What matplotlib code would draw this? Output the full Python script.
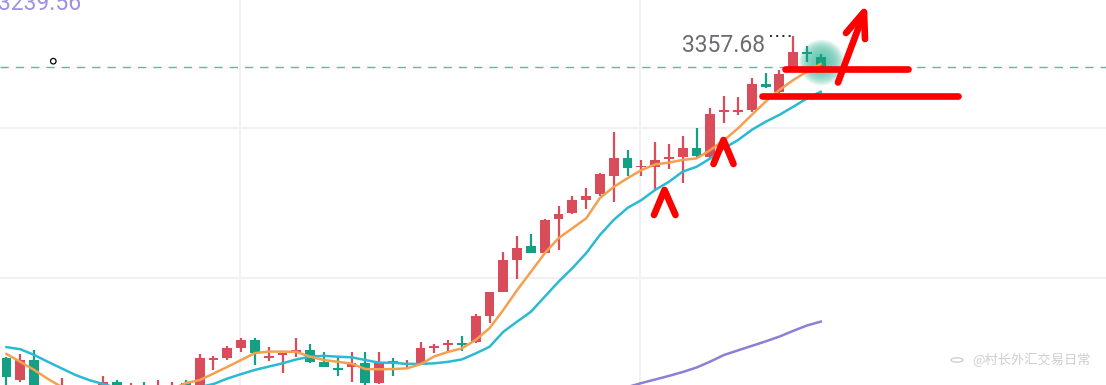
import matplotlib
matplotlib.use("Agg")
import matplotlib.pyplot as plt
import numpy as np

W, H = 1106, 385

# candle data (red = up, green = down)
opens = [3250.4, 3243.0, 3249.7, 3236.4, 3239.0, 3239.0, 3237.0, 3238.0, 3242.4, 3239.0,
         3241.0, 3238.0, 3239.0, 3242.0, 3239.0, 3249.7, 3250.4, 3253.7, 3256.4, 3250.4,
         3251.4, 3252.0, 3253.0, 3249.0, 3247.0, 3247.4, 3248.7, 3242.0, 3249.4, 3248.0,
         3248.7, 3253.7, 3254.7, 3255.2, 3255.7, 3264.4, 3272.4, 3283.0, 3287.7, 3285.4,
         3296.7, 3298.7, 3303.0, 3305.0, 3311.0, 3317.0, 3313.9, 3314.0, 3316.7, 3317.4,
         3320.4, 3317.4, 3332.4, 3332.5, 3333.0, 3341.7, 3339.0, 3347.4, 3352.2, 3350.7]
highs = [3250.7, 3251.7, 3253.0, 3240.4, 3243.7, 3240.7, 3239.7, 3244.4, 3243.0, 3242.0,
         3242.4, 3243.0, 3242.5, 3243.0, 3251.7, 3251.0, 3254.4, 3257.0, 3257.0, 3254.0,
         3252.0, 3257.0, 3255.0, 3252.4, 3250.4, 3252.4, 3252.4, 3252.4, 3250.4, 3249.7,
         3255.7, 3255.0, 3256.4, 3257.7, 3265.0, 3272.4, 3285.7, 3291.0, 3291.7, 3296.7,
         3301.0, 3304.4, 3307.0, 3312.0, 3325.7, 3319.7, 3316.4, 3322.4, 3321.7, 3324.4,
         3327.0, 3333.7, 3337.7, 3337.4, 3343.7, 3345.4, 3346.4, 3357.68, 3354.4, 3351.7]
lows = [3239.0, 3242.4, 3237.0, 3234.7, 3236.4, 3234.7, 3233.0, 3236.4, 3237.7, 3237.0,
        3236.4, 3237.0, 3237.7, 3239.0, 3238.4, 3246.4, 3249.7, 3252.4, 3248.0, 3249.4,
        3245.4, 3250.7, 3248.7, 3247.4, 3244.4, 3242.4, 3241.0, 3241.7, 3244.4, 3247.0,
        3248.4, 3252.0, 3252.4, 3252.7, 3255.4, 3262.0, 3272.4, 3276.7, 3285.4, 3285.0,
        3286.4, 3298.4, 3300.0, 3304.4, 3302.4, 3311.0, 3311.0, 3306.4, 3313.4, 3308.7,
        3317.0, 3317.0, 3328.7, 3331.4, 3332.4, 3340.4, 3338.7, 3347.2, 3349.0, 3347.2]
closes = [3244.0, 3249.7, 3240.0, 3239.0, 3240.4, 3237.0, 3235.0, 3242.4, 3239.7, 3241.0,
          3239.0, 3240.4, 3240.7, 3241.0, 3250.4, 3250.4, 3253.7, 3256.4, 3252.0, 3251.0,
          3251.9, 3253.0, 3249.0, 3247.4, 3246.4, 3248.7, 3242.0, 3249.0, 3248.7, 3248.7,
          3253.7, 3254.4, 3255.0, 3254.7, 3264.4, 3272.4, 3283.0, 3287.0, 3285.4, 3296.4,
          3298.4, 3303.0, 3304.4, 3311.7, 3317.0, 3313.7, 3314.4, 3316.4, 3317.2, 3320.4,
          3317.7, 3331.7, 3333.0, 3333.0, 3341.7, 3340.7, 3345.0, 3352.4, 3351.7, 3347.4]

# moving averages
ma_fast = [3251.7, 3249.1, 3246.4, 3243.4, 3240.7, 3239.0, 3238.0, 3237.4, 3237.0, 3237.4,
           3238.0, 3239.0, 3240.0, 3242.0, 3243.0, 3245.2, 3247.4, 3249.7, 3252.0, 3252.5,
           3252.5, 3252.4, 3250.8, 3249.7, 3249.1, 3248.5, 3246.7, 3246.6, 3246.7, 3246.9,
           3248.3, 3250.9, 3252.4, 3253.6, 3256.4, 3260.3, 3266.4, 3273.0, 3279.1, 3285.3,
           3290.3, 3293.6, 3296.9, 3303.7, 3307.4, 3310.3, 3313.0, 3314.9, 3315.5, 3316.4,
           3316.9, 3319.7, 3323.0, 3326.9, 3331.4, 3335.8, 3339.7, 3343.0, 3345.8, 3348.4]
ma_slow = [3254.0, 3253.3, 3251.4, 3249.1, 3246.9, 3244.7, 3243.0, 3241.7, 3240.4, 3239.4,
           3238.7, 3238.7, 3239.4, 3240.0, 3240.7, 3241.7, 3243.5, 3245.0, 3246.4, 3247.5,
           3248.6, 3249.9, 3250.8, 3251.1, 3250.8, 3250.6, 3249.7, 3248.8, 3248.8, 3248.4,
           3248.4, 3248.6, 3249.1, 3249.9, 3251.9, 3254.1, 3259.1, 3262.5, 3265.8, 3270.8,
           3275.8, 3280.3, 3285.3, 3291.4, 3296.4, 3300.4, 3303.0, 3306.4, 3309.1, 3312.5,
           3314.1, 3316.9, 3320.3, 3323.0, 3326.4, 3329.1, 3331.4, 3334.1, 3336.9, 3339.1]
ma_long = [np.nan] * 44 + [3239.6, 3240.7, 3242.0, 3243.2, 3244.4, 3245.7, 3247.2, 3249.2,
                           3251.4, 3252.9, 3254.4, 3255.9, 3257.5, 3259.4, 3261.2, 3262.5]

high_label = "3357.68"
low_label = "3239.56"
grid_prices = [3327.0, 3277.0]
grid_bars = [16.9, 45.9]
watermark = "@村长外汇交易日常"

UP = "#d94c59"
DOWN = "#13a085"

fig = plt.figure(figsize=(W / 100, H / 100), dpi=100)
ax = fig.add_axes([0, 0, 1, 1])
ax.set_xlim(-0.47, 79.67)
ax.set_ylim(3241.37, 3369.7)
ax.axis("off")

for p in grid_prices:
    ax.axhline(p, color="#f1f1f3", lw=1.5, zorder=0)
for b in grid_bars:
    ax.axvline(b, color="#f1f1f3", lw=1.5, zorder=0)

x = np.arange(len(opens))
o = np.array(opens)
c = np.array(closes)
up = c >= o
cols = np.where(up, UP, DOWN)
bottom = np.minimum(o, c)
height = np.maximum(np.abs(c - o), 0.6)

ax.vlines(x, lows, highs, colors=cols, lw=1.6, zorder=3)
ax.bar(x, height, bottom=bottom, width=0.72, color=cols, zorder=3)

# last price line
ax.axhline(closes[-1], color="#4fbfa8", lw=1, ls=(0, (6, 5)), zorder=1)

ax.plot(x, ma_long, color="#8c7fd8", lw=1.8, zorder=4)
ax.plot(x, ma_slow, color="#2bbad3", lw=1.8, zorder=4)
ax.plot(x, ma_fast, color="#f5a04e", lw=1.8, zorder=4)

# soft glow on last candle
for s in np.linspace(1100, 60, 18):
    ax.scatter([x[-1]], [closes[-1] + 1.5], s=s, color="#27b592", alpha=0.06,
               lw=0, zorder=2)

# high marker
hi_i = int(np.argmax(highs))
ax.plot([hi_i - 1.65, hi_i], [highs[hi_i], highs[hi_i]], color="#222222",
        lw=1.4, ls=(0, (1, 2.2)), zorder=5)
ax.annotate(high_label, (hi_i, highs[hi_i]), xytext=(-28, -16),
            textcoords="offset pixels", ha="right", va="baseline",
            fontsize=16.5, family="Roboto", color="#6b6b70")

fig.text(-2 / W, 1 - 10.5 / H, low_label, ha="left", va="baseline",
         fontsize=16.5, family="Roboto", color="#a090e6")

ax.scatter([3.39], [3349.3], s=16, facecolor="none", edgecolor="black", lw=0.9, zorder=5)


def px(pts):
    pts = np.array(pts, dtype=float)
    return pts[:, 0] / W, 1 - pts[:, 1] / H


strokes = [
    [(785, 69.3), (908, 69.3)],
    [(762, 96.5), (958, 96.5)],
    [(838, 82.5), (864, 13)],
    [(846, 33), (864, 12), (865, 39)],
    [(654, 215), (664.5, 190), (675.5, 215)],
    [(713.5, 164), (723.5, 140), (733.5, 164)],
]
for st in strokes:
    sx, sy = px(st)
    fig.add_artist(plt.Line2D(sx, sy, color="#fe0000", lw=4.8,
                              solid_capstyle="round", solid_joinstyle="round",
                              zorder=10))

fig.text(972 / W, 1 - 360 / H, watermark, ha="left", va="center",
         fontsize=9.5, family=["Noto Sans CJK SC", "DejaVu Sans"], color="#cfcfcf")
fig.add_artist(plt.Circle((957 / W, 1 - 360 / H), 0.0055, transform=fig.transFigure,
                          fill=False, ec="#cfcfcf", lw=1))

fig.savefig("out.png", dpi=100)
